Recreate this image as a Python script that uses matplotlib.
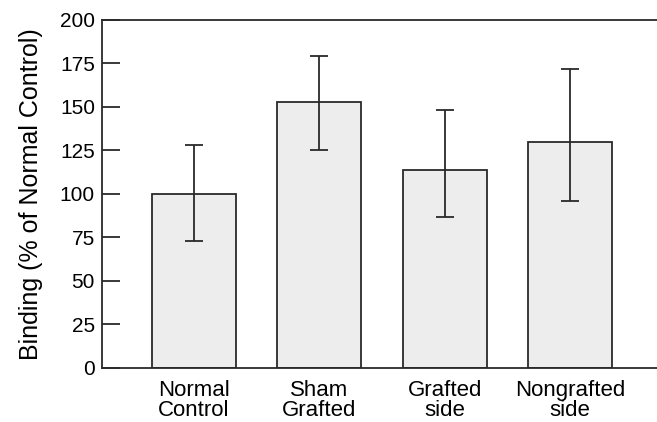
import numpy as np
import matplotlib.pyplot as plt

plt.rcParams["font.family"] = ["Liberation Sans", "DejaVu Sans"]

# data
groups = ["Normal\nControl", "Sham\nGrafted", "Grafted\nside", "Nongrafted\nside"]
binding = [100, 153, 114, 130]
err_low = [27, 28, 27, 34]
err_high = [28, 26, 34, 42]

fig = plt.figure(figsize=(6.57, 4.22), dpi=100)
ax = fig.add_axes([0.155, 0.128, 0.845, 0.825])

x = np.arange(len(groups))
ax.bar(x, binding, width=0.67, color="#ededed", edgecolor="#2a2a2a", linewidth=1.3, zorder=2)
ax.errorbar(x, binding, yerr=[err_low, err_high], fmt="none", ecolor="#2a2a2a",
            elinewidth=1.3, capsize=6.5, capthick=1.3, zorder=3)

ax.set_xlim(-0.734, 3.694)
ax.set_ylim(0, 200)
ax.set_yticks(np.arange(0, 201, 25))
ax.set_xticks(x)
ax.set_xticklabels(groups, fontsize=16, linespacing=0.92)
ax.tick_params(axis="x", length=0, pad=9)
ax.tick_params(axis="y", direction="in", length=13, width=1.3, labelsize=15, pad=5, color="#2a2a2a")

for s in ["left", "top", "bottom"]:
    ax.spines[s].set_linewidth(1.3)
    ax.spines[s].set_color("#2a2a2a")
ax.spines["right"].set_visible(False)

ax.set_ylabel("Binding (% of Normal Control)", fontsize=18, labelpad=12)

plt.savefig("out.png", dpi=100)
